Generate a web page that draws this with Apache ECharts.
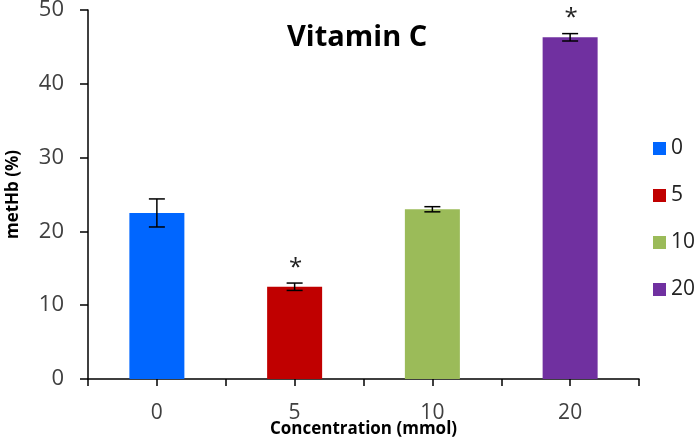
<!DOCTYPE html>
<html>
<head>
<meta charset="utf-8">
<script src="https://cdn.jsdelivr.net/npm/echarts@6/dist/echarts.min.js"></script>
</head>
<body style="margin:0;background:#fff;">
<div id="container" style="width: 697px; height: 439px;"></div>
<script>
    // data
    var categories = ['0', '5', '10', '20'];
    var means = [22.5, 12.5, 23.0, 46.3];
    var errors = [1.9, 0.5, 0.35, 0.5];
    var significant = [false, true, false, true];
    var colors = ['#0066ff', '#c00000', '#9bbb59', '#7030a0'];
    var yTicks = [0, 10, 20, 30, 40, 50];

    var myChart = echarts.init(document.getElementById('container'));
    var font = 'Open Sans';

    var barSeries = categories.map(function (c, i) {
        var d = categories.map(function (_, j) { return j === i ? means[i] : '-'; });
        return {
            name: c,
            type: 'bar',
            stack: 'one',
            barWidth: 55,
            itemStyle: {color: colors[i]},
            data: d
        };
    });

    var errData = categories.map(function (c, i) {
        return [i, means[i] - errors[i], means[i] + errors[i], significant[i] ? 1 : 0];
    });

    var option = {
        animation: false,
        title: {
            text: 'Vitamin C',
            left: 282,
            top: 18,
            textStyle: {fontFamily: font, fontSize: 29, fontWeight: 'bold', color: '#000'}
        },
        legend: {
            orient: 'vertical',
            left: 648,
            top: 133,
            itemWidth: 13,
            itemHeight: 13,
            itemGap: 26,
            icon: 'rect',
            data: categories,
            textStyle: {fontFamily: font, fontSize: 21, color: '#222'}
        },
        grid: {left: 88, right: 58, top: 10, bottom: 60, outerBoundsMode: 'none'},
        xAxis: [{
            type: 'category',
            data: categories,
            name: 'Concentration (mmol)',
            nameLocation: 'middle',
            nameGap: 42,
            nameMoveOverlap: false,
            nameTextStyle: {fontFamily: font, fontSize: 17, fontWeight: 'bold', color: '#000'},
            axisLine: {lineStyle: {color: '#000', width: 1.5}},
            axisTick: {show: true, length: 7, lineStyle: {color: '#000', width: 1.5}},
            axisLabel: {fontFamily: font, fontSize: 21, color: '#404040', margin: 24}
        }, {
            type: 'category',
            data: categories,
            position: 'bottom',
            axisLine: {show: false},
            axisTick: {show: true, alignWithLabel: true, length: 7, lineStyle: {color: '#000', width: 1.5}},
            axisLabel: {show: false}
        }],
        yAxis: {
            type: 'value',
            min: yTicks[0],
            max: yTicks[yTicks.length - 1],
            interval: 10,
            name: 'metHb (%)',
            nameLocation: 'middle',
            nameGap: 66,
            nameMoveOverlap: false,
            nameTextStyle: {fontFamily: font, fontSize: 17, fontWeight: 'bold', color: '#000'},
            splitLine: {show: false},
            axisLine: {show: true, lineStyle: {color: '#000', width: 1.5}},
            axisTick: {show: true, length: 8, lineStyle: {color: '#000', width: 1.5}},
            axisLabel: {fontFamily: font, fontSize: 22, color: '#404040', margin: 24}
        },
        series: barSeries.concat([{
            type: 'custom',
            name: 'err',
            z: 5,
            data: errData,
            renderItem: function (params, api) {
                var i = api.value(0);
                var lo = api.coord([i, api.value(1)]);
                var hi = api.coord([i, api.value(2)]);
                var w = 8;
                var st = {stroke: '#000', lineWidth: 1.5};
                var kids = [
                    {type: 'line', shape: {x1: hi[0], y1: hi[1], x2: lo[0], y2: lo[1]}, style: st},
                    {type: 'line', shape: {x1: hi[0] - w, y1: hi[1], x2: hi[0] + w, y2: hi[1]}, style: st},
                    {type: 'line', shape: {x1: lo[0] - w, y1: lo[1], x2: lo[0] + w, y2: lo[1]}, style: st}
                ];
                if (api.value(3)) {
                    kids.push({
                        type: 'text',
                        x: hi[0] + 1,
                        y: hi[1] - 3,
                        style: {text: '*', fill: '#222', font: '24px Open Sans', align: 'center', verticalAlign: 'bottom'}
                    });
                }
                return {type: 'group', children: kids};
            }
        }])
    };

    myChart.setOption(option);
</script>
</body>
</html>
